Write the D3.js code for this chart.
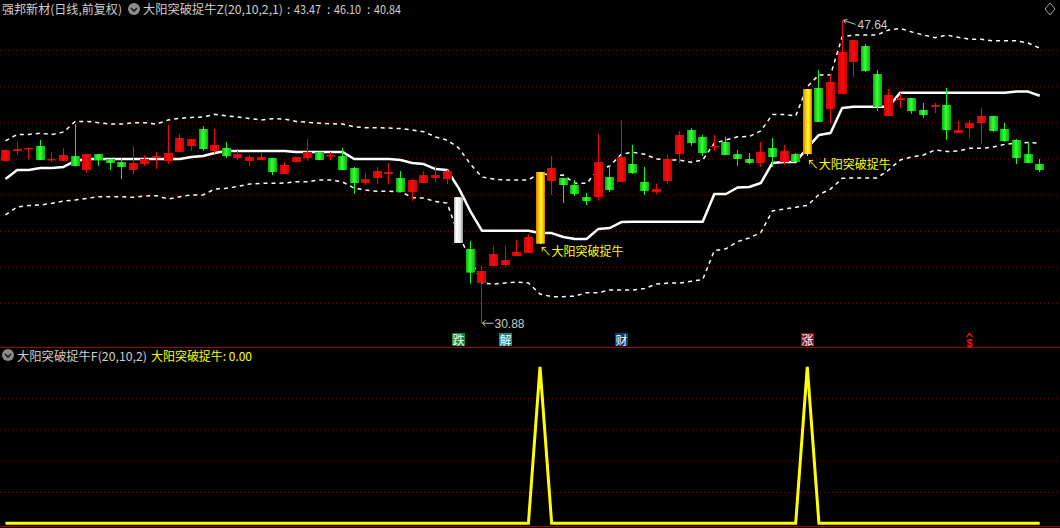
<!DOCTYPE html>
<html><head><meta charset="utf-8">
<script src="https://cdn.jsdelivr.net/npm/d3@7"></script>
<style>html,body{margin:0;padding:0;background:#000;overflow:hidden}</style>
</head><body><svg id="c" width="1060" height="528"></svg>
<script>
// ---------- data (prices) ----------
const openP = [39.86,40.41,40.50,40.69,39.91,39.86,40.13,39.36,40.24,39.97,
39.80,39.36,39.69,40.02,39.86,40.36,40.69,41.63,40.41,40.58,
40.02,39.86,39.91,40.02,39.14,39.80,40.02,40.36,40.13,40.13,
39.47,38.64,38.92,39.14,38.92,38.14,38.64,38.92,38.86,37.86,
34.99,33.11,34.05,34.10,34.60,34.77,35.28,38.75,38.92,38.53,
37.86,37.86,38.97,38.70,39.69,38.70,38.14,38.75,40.24,41.57,
41.19,40.63,40.91,40.24,39.97,39.75,40.58,39.80,40.24,40.24,
43.90,42.73,43.57,45.34,46.22,44.67,42.35,43.23,43.34,42.68,
42.85,42.96,41.41,41.68,41.96,42.35,41.63,41.02,40.24,39.69];
const closeP = [40.47,40.52,40.58,39.91,39.97,40.19,39.58,40.24,39.91,39.75,
39.53,39.75,39.97,40.13,40.30,41.13,41.07,40.52,40.74,40.13,
40.24,40.08,40.08,39.25,39.64,40.08,40.36,39.91,40.19,39.36,
38.64,38.86,39.30,39.25,38.14,38.81,39.08,39.08,39.30,35.32,
33.68,33.77,34.71,34.38,34.82,35.65,39.25,39.47,38.53,38.03,
37.64,39.80,38.25,40.08,39.19,38.20,38.31,39.97,41.30,40.85,
40.30,40.69,40.19,39.97,39.75,40.36,40.08,40.41,39.80,43.84,
42.02,44.23,45.89,46.55,44.84,42.85,43.51,43.34,42.62,42.40,
42.96,41.57,41.57,41.96,42.35,41.52,40.96,40.02,39.75,39.36];
const highP = [40.47,40.96,40.60,41.02,40.36,40.58,41.90,40.24,40.24,39.97,
40.02,40.69,40.19,40.36,41.85,41.35,41.07,41.79,41.63,40.91,
40.41,40.19,40.36,40.02,39.80,40.08,41.07,40.36,40.36,40.58,
39.53,39.19,39.53,39.75,39.30,38.86,39.30,39.58,39.36,37.86,
35.43,34.05,35.15,35.15,35.49,35.82,39.25,40.13,38.92,38.81,
38.09,41.35,39.64,42.13,40.74,39.53,38.58,40.19,41.52,41.68,
41.30,41.30,41.19,40.47,40.30,40.91,41.13,40.74,40.30,43.84,
44.89,44.67,47.64,46.55,46.33,44.89,43.84,43.62,43.34,43.07,
43.07,43.90,42.07,42.13,42.79,42.35,41.96,41.07,40.91,39.97];
const lowP = [39.86,40.19,39.97,39.91,39.80,39.86,39.55,39.21,39.58,39.36,
38.86,39.14,39.58,39.41,39.69,40.36,40.41,40.41,40.30,40.02,
39.91,39.58,39.91,39.08,39.14,39.80,39.86,39.91,39.91,39.36,
38.03,38.53,38.58,38.58,38.14,37.64,38.64,38.70,38.58,35.32,
33.07,30.88,34.05,33.99,34.60,34.77,35.28,37.98,37.53,37.92,
37.42,37.64,38.14,38.70,39.14,37.98,38.03,38.58,39.75,40.69,
40.13,40.41,40.19,39.58,39.69,39.53,39.53,39.64,39.80,40.13,
42.02,41.96,43.57,44.51,44.78,42.62,42.35,42.79,42.46,42.24,
42.51,41.02,41.41,41.13,40.80,41.46,40.91,39.69,39.75,39.25];
const midLine = [38.86,39.36,39.36,39.47,39.47,39.53,39.86,
39.97,39.97,39.97,39.97,39.97,39.97,39.97,39.97,39.97,
40.08,40.13,40.30,
40.41,40.41,40.41,40.41,40.41,40.41,
40.36,40.36,40.36,40.36,40.36,
39.97,39.97,39.97,39.97,
39.91,39.75,39.69,39.41,39.36,
38.36,37.09,
36.00,36.00,36.00,36.00,36.00,
35.87,35.87,35.65,35.54,35.54,
36.09,36.15,36.48,
36.50,36.50,36.50,36.50,36.50,36.50,36.50,
38.03,38.03,38.39,38.42,38.64,
39.75,39.80,39.80,
40.58,41.30,41.41,
42.79,
42.86,42.86,42.86,42.86,
43.64,43.64,43.64,43.64,43.64,43.64,43.64,43.64,43.64,43.64,
43.71,43.70,43.47];
const upperLine = [40.97,41.33,41.33,41.39,41.33,41.46,42.05,42.05,41.98,41.90,
41.90,41.98,41.98,41.90,42.13,42.22,42.27,42.29,42.44,42.36,
42.29,42.21,42.13,42.20,42.18,42.05,42.00,41.95,41.92,41.90,
41.75,41.70,41.70,41.68,41.65,41.57,41.48,41.19,41.02,40.58,
39.69,38.97,38.86,38.81,38.81,38.81,39.19,39.05,39.08,38.62,
38.62,39.36,39.58,40.24,40.34,40.23,39.97,39.91,39.91,39.79,
39.91,40.85,41.02,41.20,41.21,41.52,42.43,42.43,42.35,43.97,
44.62,44.62,46.72,46.83,46.83,46.83,47.11,47.19,47.00,46.83,
46.68,46.83,46.70,46.59,46.59,46.51,46.51,46.51,46.39,46.10];
const lowerLine = [36.87,37.31,37.39,37.42,37.52,37.64,37.70,37.79,37.88,37.88,
37.88,37.85,37.92,37.94,37.75,37.88,37.98,37.98,38.31,38.35,
38.45,38.58,38.62,38.62,38.64,38.71,38.71,38.81,38.81,38.70,
38.36,38.25,38.18,38.18,38.17,37.83,37.81,37.61,37.53,35.76,
34.45,33.11,33.05,33.11,33.16,33.11,32.50,32.35,32.35,32.38,
32.57,32.57,32.72,32.72,32.72,32.80,33.05,33.10,33.10,33.20,
33.30,34.90,35.00,35.40,35.60,35.90,37.10,37.20,37.30,37.40,
38.00,38.30,38.90,38.92,38.92,38.92,39.36,39.91,40.08,40.19,
40.47,40.38,40.41,40.56,40.56,40.63,40.78,40.85,40.88,40.84];
const signal = [0,0,0,0,0,0,0,0,0,0, 0,0,0,0,0,0,0,0,0,0,
0,0,0,0,0,0,0,0,0,0, 0,0,0,0,0,0,0,0,0,0,
0,0,0,0,0,0,1,0,0,0, 0,0,0,0,0,0,0,0,0,0,
0,0,0,0,0,0,0,0,0,1, 0,0,0,0,0,0,0,0,0,0,
0,0,0,0,0,0,0,0,0,0];
const fallDays = [39];
const priceTicks = [32,34,36,38,40,42,44,46];
const signalTicks = [0.2,0.4,0.6,0.8];
const markerDays = [39,43,53,69];
const markerTexts = ['跌','解','财','涨'];
const markerColors = ['#0a8a3a','#0e8a8a','#0c3c78','#8a1010'];
const dollarDay = 83;
const stockName = '强邦新材(日线,前复权)';
const mainTitle = '大阳突破捉牛Z(20,10,2,1)';
const subTitle = '大阳突破捉牛F(20,10,2)';
const signalName = '大阳突破捉牛';

// ---------- drawing ----------
const W = 1060, H = 528;
const CJK = "'Noto Sans CJK SC','Noto Sans',sans-serif";
const svg = d3.select('#c');
svg.append('rect').attr('width', W).attr('height', H).attr('fill', '#000');
const defs = svg.append('defs');
function grad(id, stops){
  const g = defs.append('linearGradient').attr('id', id).attr('x1','0').attr('x2','1').attr('y1','0').attr('y2','0');
  stops.forEach(s => g.append('stop').attr('offset', s[0]).attr('stop-color', s[1]));
}
grad('gGreen', [[0,'#00b400'],[0.45,'#3cff3c'],[1,'#00b400']]);
grad('gRed', [[0,'#d80000'],[0.5,'#f01010'],[1,'#d00000']]);
grad('gGold', [[0,'#e07000'],[0.3,'#ffc800'],[0.55,'#ffff30'],[0.8,'#ffc000'],[1,'#d07000']]);
grad('gWhite', [[0,'#b0b0b0'],[0.25,'#ffffff'],[0.7,'#e6e6e6'],[1,'#909090']]);

const n = closeP.length;
const x = d3.scaleLinear().domain([0, n - 1]).range([5.5, 1039.7]);
const y = d3.scaleLinear().domain([32, 46]).range([303, 50]);
const y2 = d3.scaleLinear().domain([0, 1]).range([523.3, 366.8]);

// grid lines via axes
const gridStyle = g => {
  g.select('.domain').remove();
  g.selectAll('.tick line').attr('stroke', '#8a0000').attr('stroke-dasharray', '1,3');
  g.selectAll('.tick text').remove();
};
svg.append('g').call(d3.axisRight(y).tickValues(priceTicks).tickSize(W).tickFormat('')).call(gridStyle);
svg.append('g').call(d3.axisRight(y2).tickValues(signalTicks).tickSize(W).tickFormat('')).call(gridStyle);

// separators
svg.append('line').attr('x1',0).attr('x2',W).attr('y1',347.5).attr('y2',347.5).attr('stroke','#a00000').attr('stroke-width',1.2);
svg.append('line').attr('x1',0).attr('x2',W).attr('y1',526.5).attr('y2',526.5).attr('stroke','#a00000').attr('stroke-width',1.2);

// band lines
const lineGen = d3.line().x((d, i) => x(i)).y(d => y(d));
svg.append('path').attr('d', lineGen(upperLine)).attr('fill','none').attr('stroke','#fff').attr('stroke-width',1.5).attr('stroke-dasharray','4,4');
svg.append('path').attr('d', lineGen(lowerLine)).attr('fill','none').attr('stroke','#fff').attr('stroke-width',1.5).attr('stroke-dasharray','4,4');
svg.append('path').attr('d', lineGen(midLine)).attr('fill','none').attr('stroke','#fff').attr('stroke-width',2.5).attr('stroke-linejoin','round');

// candles
const idx = d3.range(n);
function kind(i){
  if (signal[i] === 1) return 'gold';
  if (fallDays.includes(i)) return 'white';
  return closeP[i] >= openP[i] ? 'red' : 'green';
}
const wickCol = {red:'#ff0000', green:'#00ff00', gold:'#ffc000', white:'#e0e0e0'};
const fillCol = {red:'url(#gRed)', green:'url(#gGreen)', gold:'url(#gGold)', white:'url(#gWhite)'};
const cg = svg.append('g');
cg.selectAll('line.w').data(idx).join('line').attr('class','w')
  .attr('x1', i => Math.floor(x(i)) + 0.5).attr('x2', i => Math.floor(x(i)) + 0.5)
  .attr('y1', i => y(highP[i])).attr('y2', i => y(lowP[i]))
  .attr('stroke', i => wickCol[kind(i)]).attr('stroke-width', 1);
cg.selectAll('rect.b').data(idx).join('rect').attr('class','b')
  .attr('x', i => Math.floor(x(i)) - 4).attr('width', 9)
  .attr('y', i => y(Math.max(openP[i], closeP[i])))
  .attr('height', i => Math.max(1.5, Math.abs(y(openP[i]) - y(closeP[i]))))
  .attr('fill', i => fillCol[kind(i)]);

// high / low labels
const hi = d3.maxIndex(highP), lo = d3.minIndex(lowP);
const fmt = d3.format('.2f');
const hx = Math.floor(x(hi)) + 0.5, hy = y(highP[hi]);
svg.append('path').attr('d', `M${hx+1},${hy} L${hx+13},${hy+4} M${hx+1},${hy} l4,-1 M${hx+1},${hy} l2,3`).attr('stroke','#c8c8c8').attr('fill','none');
svg.append('text').attr('x', hx + 15).attr('y', hy + 9).text(fmt(highP[hi]))
  .attr('fill','#c8c8c8').attr('font-family',"'Liberation Sans',Arial,sans-serif").attr('font-size',12).attr('textLength',30).attr('lengthAdjust','spacingAndGlyphs');
const lx = Math.floor(x(lo)) + 0.5, ly = y(lowP[lo]);
svg.append('path').attr('d', `M${lx+1},${ly} L${lx+12},${ly} M${lx+1},${ly} l3,-3 M${lx+1},${ly} l3,3`).attr('stroke','#c8c8c8').attr('fill','none');
svg.append('text').attr('x', lx + 13).attr('y', ly + 5).text(fmt(lowP[lo]))
  .attr('fill','#c8c8c8').attr('font-family',"'Liberation Sans',Arial,sans-serif").attr('font-size',12).attr('textLength',30).attr('lengthAdjust','spacingAndGlyphs');

// signal labels on candles
idx.filter(i => signal[i] === 1).forEach(i => {
  svg.append('text').attr('x', x(i) - 0.5).attr('y', y(lowP[i]) + 12.5)
    .text('↖' + signalName).attr('fill','#ffff00').attr('font-family', CJK).attr('font-size',12);
});

// marker row
markerDays.forEach((d, k) => {
  const cx = Math.floor(x(d)) + 0.5;
  svg.append('rect').attr('x', cx - 6.5).attr('y', 333).attr('width', 13).attr('height', 13).attr('fill', markerColors[k]);
  svg.append('text').attr('x', cx).attr('y', 344.5).attr('text-anchor','middle').text(markerTexts[k])
    .attr('fill','#fff').attr('font-family', CJK).attr('font-size', 12);
});
{
  const cx = Math.floor(x(dollarDay)) + 0.5;
  svg.append('path').attr('d', `M${cx-3},${337} L${cx},${333.5} L${cx+3},${337}`).attr('stroke','#ff1010').attr('fill','none').attr('stroke-width',1.2);
  svg.append('text').attr('x', cx).attr('y', 346.5).attr('text-anchor','middle').text('$')
    .attr('fill','#ff1010').attr('font-family',"'Liberation Sans',Arial,sans-serif").attr('font-size',11).attr('font-weight','bold');
}

// bottom signal line
const line2 = d3.line().x((d, i) => x(i)).y(d => y2(d));
svg.append('path').attr('d', line2(signal)).attr('fill','none').attr('stroke','#ffff00').attr('stroke-width',3);

// headers
function icon(cx, cy){
  svg.append('circle').attr('cx', cx).attr('cy', cy).attr('r', 6).attr('fill', '#8c8c8c');
  svg.append('path').attr('d', `M${cx-3},${cy-1} L${cx},${cy+2} L${cx+3},${cy-1}`).attr('stroke','#1a1a1a').attr('stroke-width',1.6).attr('fill','none');
}
function txt(s, xx, yy, col, len){
  const t = svg.append('text').attr('x', xx).attr('y', yy).text(s).attr('fill', col)
    .attr('font-family', CJK).attr('font-size', 12);
  if (len) t.attr('textLength', len).attr('lengthAdjust','spacingAndGlyphs');
  return t;
}
txt(stockName, 2, 14, '#d0d0d0', 120);
icon(134, 9);
txt(mainTitle, 143, 14, '#d0d0d0', 140);
const lastVals = [midLine[n-1], upperLine[n-1], lowerLine[n-1]];
lastVals.forEach((v, k) => {
  txt(':', 287 + k * 40, 14, '#d0d0d0');
  txt(fmt(v), 294 + k * 40, 14, '#d0d0d0', 27);
});
svg.append('path').attr('d','M1050,3 L1055,9 L1050,15 L1045,9 Z').attr('stroke','#a0a0a0').attr('fill','none');
icon(8, 355);
txt(subTitle, 17, 361, '#d0d0d0', 130);
txt(signalName + ': ' + fmt(signal[n-1]), 151, 361, '#ffff00', 101);
</script></body></html>
